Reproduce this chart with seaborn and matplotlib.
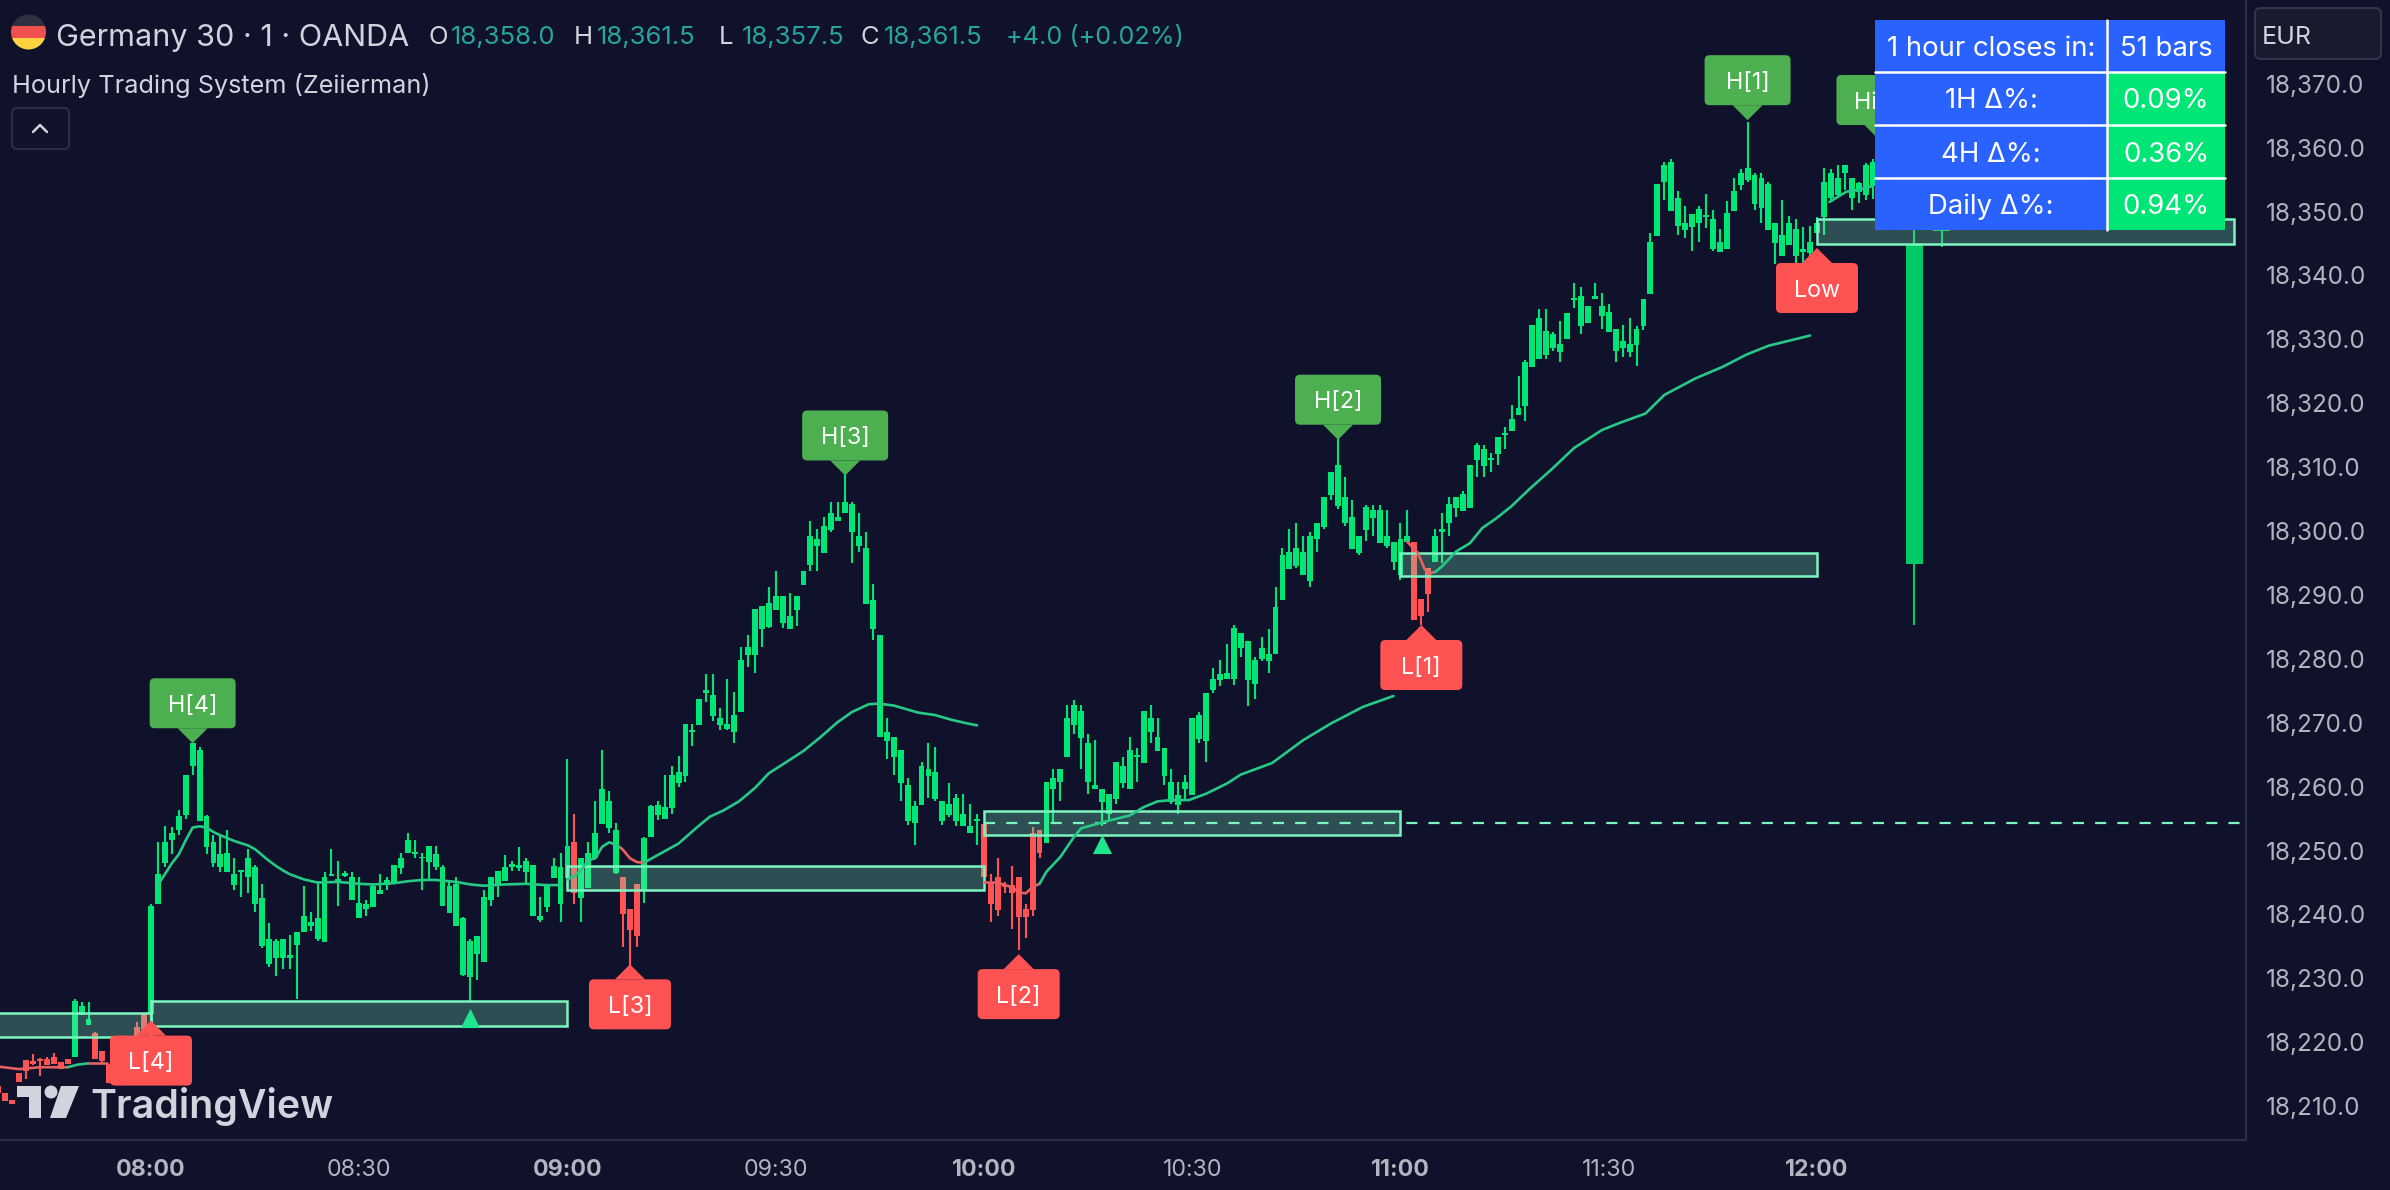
import matplotlib
matplotlib.use('Agg')
import matplotlib.pyplot as plt
import seaborn as sns
import pandas as pd
from matplotlib.patches import Rectangle, FancyBboxPatch, Polygon, Circle
from matplotlib.lines import Line2D
from matplotlib.transforms import IdentityTransform

# 价格都以 18000 为基准记录
PRICE_BASE = 18000
FIRST_BAR = -22  # 第 0 根 = 08:00，每根 1 分钟

HIGHS = [
    213.2, 212.1, 211.0, 215.2, 217.3, 218.2, 217.5, 217.7, 218.3, 216.9,
    217.4, 226.7, 226.3, 226.3, 221.6, 218.7, 216.6, 215.5, 217.0, 218.0, 223.2, 224.5,
    # 08:00
    241.7, 251.3, 253.8, 253.7, 256.3, 261.8, 266.9, 266.2, 255.6, 252.4,
    252.4, 253.3, 248.8, 246.9, 250.3, 247.7, 244.7, 238.7, 236.2, 236.2,
    236.8, 237.3, 244.4, 240.4, 245.3, 246.7, 250.3, 248.3, 246.8, 246.7,
    245.8, 242.3, 244.6, 246.3, 245.8, 247.7, 249.7, 252.7, 251.7, 249.6,
    250.7, 250.7, 247.7, 245.3, 245.8, 239.6, 236.2, 236.7, 243.8, 245.8,
    246.8, 249.3, 248.3, 250.6, 248.8, 247.7, 242.7, 244.6, 248.8, 249.7,
    # 09:00
    264.3, 255.7, 248.8, 251.3, 257.8, 265.7, 259.3, 254.3, 245.8, 240.8,
    244.7, 252.2, 257.2, 257.8, 261.8, 263.2, 264.8, 269.8, 269.8, 273.7,
    277.7, 277.7, 272.3, 276.8, 274.8, 281.8, 283.7, 287.8, 288.3, 291.2,
    293.8, 289.8, 290.3, 289.8, 293.8, 301.6, 300.3, 302.2, 304.6, 304.6,
    309.2, 304.6, 302.8, 299.8, 291.7, 283.7, 270.7, 267.7, 265.7, 261.3,
    257.7, 263.8, 266.8, 266.2, 257.7, 260.6, 258.9, 258.9, 257.3, 255.7,
    # 10:00
    254.2, 246.3, 248.8, 245.1, 247.6, 245.8, 241.7, 253.7, 253.2, 260.7,
    262.7, 262.7, 272.8, 273.6, 272.8, 268.2, 267.3, 259.7, 258.8, 263.8,
    264.7, 267.7, 266.1, 271.8, 272.8, 270.7, 266.1, 262.7, 260.7, 261.8,
    270.7, 271.7, 274.7, 278.6, 279.8, 282.3, 285.3, 284.1, 282.8, 280.3,
    283.5, 284.7, 291.2, 297.3, 300.3, 301.3, 299.3, 299.8, 301.3, 305.3,
    309.2, 314.4, 308.4, 304.8, 299.3, 304.1, 304.1, 304.1, 303.3, 298.3,
    # 11:00
    301.3, 303.3, 298.3, 289.3, 294.2, 300.3, 302.8, 305.3, 305.3, 306.2,
    310.4, 313.8, 313.4, 312.2, 314.8, 316.3, 319.7, 324.3, 326.8, 332.2,
    334.8, 334.8, 331.2, 332.8, 334.2, 338.8, 338.2, 335.2, 338.8, 337.2,
    335.6, 331.7, 332.2, 333.4, 332.1, 336.3, 346.7, 354.3, 357.8, 358.2,
    353.2, 350.8, 349.6, 350.8, 352.7, 350.2, 347.2, 351.6, 355.2, 356.7,
    364.0, 356.1, 356.1, 354.7, 348.2, 351.8, 349.3, 348.8, 347.6, 347.7,
    # 12:00
    349.2, 356.8, 356.7, 357.3, 357.3, 355.2, 354.7, 357.6, 358.2,
]
BODY_TOP = [
    213.2, 212.1, 211.0, 215.2, 217.3, 217.0, 217.4, 217.4, 217.7, 216.9,
    217.4, 226.5, 225.7, 223.7, 221.4, 218.7, 216.6, 215.5, 217.0, 218.0, 222.4, 224.5,
    # 08:00
    241.3, 246.3, 251.3, 252.7, 255.4, 261.8, 266.9, 265.7, 255.4, 251.3,
    249.4, 249.7, 246.3, 246.9, 248.8, 247.4, 242.6, 236.2, 235.8, 236.2,
    233.7, 237.3, 239.7, 238.8, 239.4, 245.8, 246.3, 245.5, 246.5, 245.8,
    241.8, 241.7, 244.5, 243.8, 245.4, 247.7, 248.8, 251.7, 249.8, 249.0,
    250.7, 249.4, 247.4, 244.4, 244.7, 239.4, 235.9, 236.7, 242.8, 245.8,
    246.8, 247.4, 247.9, 247.7, 248.4, 247.7, 239.7, 244.6, 247.6, 247.5,
    # 09:00
    250.7, 251.3, 248.8, 249.7, 252.7, 259.7, 257.8, 253.2, 245.8, 240.8,
    244.7, 251.9, 256.9, 257.2, 256.8, 261.8, 262.3, 269.8, 268.9, 273.7,
    275.1, 274.4, 270.7, 269.8, 271.2, 279.8, 281.8, 287.8, 288.3, 288.7,
    289.8, 289.8, 286.7, 289.8, 293.8, 299.2, 298.7, 300.8, 302.9, 302.2,
    304.6, 304.2, 299.2, 297.3, 289.2, 283.7, 268.6, 267.7, 265.7, 260.3,
    256.9, 263.2, 262.7, 262.3, 257.7, 257.3, 258.2, 255.7, 253.8, 255.0,
    # 10:00
    254.2, 244.7, 245.8, 244.6, 244.6, 245.8, 240.8, 252.7, 253.2, 260.7,
    261.3, 262.7, 270.7, 272.8, 271.8, 266.8, 260.2, 259.7, 258.8, 263.8,
    263.2, 265.7, 264.9, 271.8, 270.7, 267.7, 266.1, 260.7, 258.7, 260.7,
    270.7, 271.2, 274.7, 276.8, 277.7, 277.8, 284.9, 284.1, 282.8, 279.8,
    281.7, 280.7, 288.1, 296.3, 296.8, 297.3, 296.8, 299.3, 301.3, 305.3,
    309.2, 310.4, 305.3, 302.2, 299.3, 303.8, 303.3, 303.3, 299.3, 298.3,
    # 11:00
    298.8, 299.3, 298.3, 289.3, 294.2, 299.3, 300.3, 304.3, 305.3, 305.8,
    310.4, 313.4, 312.8, 311.4, 314.7, 315.4, 317.6, 319.2, 326.4, 332.2,
    333.4, 331.3, 330.8, 329.3, 334.2, 336.4, 336.8, 335.2, 336.8, 335.2,
    334.3, 331.7, 329.7, 329.3, 331.7, 336.3, 345.2, 354.3, 357.3, 357.8,
    352.2, 348.2, 349.6, 350.4, 349.4, 348.8, 345.2, 349.7, 353.2, 356.1,
    356.8, 355.7, 355.3, 354.3, 348.2, 346.3, 348.2, 347.2, 344.2, 345.2,
    # 12:00
    348.2, 354.7, 356.1, 355.3, 357.3, 355.2, 354.4, 357.3, 357.8,
]
BODY_BOT = [
    212.1, 210.8, 210.3, 213.8, 215.5, 216.6, 217.1, 216.5, 216.6, 215.8,
    216.6, 217.7, 224.2, 222.7, 217.4, 217.1, 213.7, 213.4, 214.0, 216.0, 219.0, 222.0,
    # 08:00
    224.5, 241.6, 248.1, 251.6, 253.2, 255.5, 263.3, 254.6, 250.6, 248.1,
    247.5, 246.6, 244.6, 246.6, 245.8, 241.6, 235.0, 232.2, 233.2, 233.2,
    233.2, 235.2, 237.2, 238.2, 236.1, 235.7, 246.1, 245.0, 246.1, 242.2,
    239.5, 240.8, 241.2, 243.2, 244.6, 245.0, 247.2, 249.6, 249.5, 248.8,
    248.2, 247.5, 241.4, 240.3, 238.2, 230.5, 230.2, 233.8, 232.6, 242.3,
    244.5, 245.3, 247.5, 247.2, 246.7, 239.7, 239.2, 241.2, 245.7, 241.7,
    # 09:00
    245.7, 243.3, 242.6, 244.1, 248.9, 254.2, 253.6, 246.5, 240.1, 237.6,
    236.6, 243.8, 252.2, 255.5, 255.0, 256.6, 260.5, 261.7, 268.6, 269.7,
    274.7, 271.1, 269.7, 269.1, 268.6, 271.7, 280.6, 280.6, 284.7, 285.0,
    287.7, 285.6, 284.7, 287.7, 291.6, 294.7, 297.7, 296.6, 300.2, 301.6,
    302.8, 299.8, 297.7, 288.6, 284.7, 267.7, 267.2, 264.7, 260.6, 254.7,
    254.3, 257.1, 261.7, 258.0, 254.7, 255.6, 254.7, 253.8, 252.7, 254.7,
    # 10:00
    245.8, 241.6, 240.7, 244.3, 243.3, 239.6, 239.6, 240.7, 249.6, 251.2,
    259.6, 260.7, 264.7, 269.6, 267.6, 260.7, 259.6, 257.6, 255.7, 258.0,
    260.6, 259.6, 264.7, 263.7, 268.6, 265.6, 261.6, 257.6, 257.1, 259.6,
    258.7, 267.5, 267.2, 275.1, 276.7, 276.9, 276.9, 281.7, 276.7, 276.1,
    280.0, 279.7, 280.7, 289.2, 294.1, 294.6, 293.2, 292.2, 298.7, 300.6,
    305.7, 304.0, 301.2, 297.2, 296.6, 300.2, 302.0, 298.2, 297.6, 295.2,
    # 11:00
    293.2, 298.3, 286.1, 286.7, 290.2, 295.2, 299.8, 301.2, 303.6, 303.2,
    303.6, 311.1, 310.2, 311.2, 312.1, 315.1, 315.7, 318.2, 319.6, 325.7,
    327.0, 327.6, 328.6, 328.1, 330.1, 336.1, 332.1, 332.5, 336.3, 333.6,
    331.2, 328.2, 328.6, 328.1, 329.1, 332.1, 337.1, 346.2, 354.7, 350.1,
    347.7, 347.1, 347.6, 348.2, 349.2, 344.1, 343.7, 344.1, 350.1, 354.2,
    355.0, 351.2, 350.5, 347.1, 345.1, 343.1, 344.7, 343.1, 343.7, 343.5,
    # 12:00
    346.7, 349.1, 352.2, 352.6, 356.1, 352.2, 353.1, 352.6, 354.0,
]
LOWS = [
    212.1, 210.8, 210.3, 213.8, 214.2, 216.4, 214.8, 216.5, 216.6, 215.8,
    216.6, 217.7, 224.2, 222.7, 217.4, 216.6, 213.7, 213.4, 214.0, 216.0, 219.0, 222.0,
    # 08:00
    224.0, 241.6, 247.5, 249.5, 252.4, 254.9, 261.8, 254.6, 249.4, 247.5,
    246.7, 246.6, 243.8, 242.8, 243.3, 240.4, 234.7, 231.8, 230.3, 231.4,
    231.4, 226.8, 237.2, 237.4, 235.9, 235.7, 246.1, 241.3, 245.8, 242.2,
    239.4, 239.7, 241.2, 243.2, 243.8, 245.0, 246.3, 249.6, 248.8, 243.8,
    245.5, 246.9, 241.3, 240.3, 238.2, 230.3, 226.3, 229.7, 232.6, 241.4,
    242.8, 245.3, 246.8, 246.8, 244.9, 239.7, 238.8, 240.4, 245.7, 238.9,
    # 09:00
    245.7, 241.7, 238.9, 244.1, 248.9, 254.2, 252.7, 246.3, 234.9, 231.3,
    234.9, 241.8, 252.2, 254.8, 254.9, 255.7, 259.9, 260.8, 266.3, 269.7,
    273.3, 270.3, 268.8, 268.8, 266.9, 271.7, 278.8, 277.8, 281.9, 284.8,
    287.7, 284.8, 284.7, 285.2, 291.6, 293.8, 293.8, 296.6, 299.9, 301.6,
    302.8, 295.0, 296.8, 288.6, 282.9, 267.7, 264.4, 261.8, 257.8, 254.0,
    250.8, 257.1, 258.3, 257.7, 254.0, 255.2, 253.8, 253.8, 252.7, 250.8,
    # 10:00
    245.8, 238.8, 239.7, 243.3, 237.8, 234.4, 236.3, 239.7, 248.9, 251.2,
    254.4, 257.8, 264.7, 268.2, 262.7, 258.8, 259.6, 253.9, 254.8, 257.3,
    259.8, 259.6, 260.8, 263.7, 266.9, 265.6, 260.2, 257.3, 255.8, 258.0,
    258.7, 266.9, 263.9, 274.7, 275.7, 276.9, 275.9, 280.3, 272.7, 273.8,
    279.7, 277.8, 280.7, 289.2, 294.1, 294.3, 293.2, 291.3, 296.8, 300.3,
    304.8, 303.5, 300.8, 297.2, 296.3, 298.4, 299.3, 298.2, 297.3, 293.9,
    # 11:00
    292.4, 298.3, 286.1, 285.3, 287.3, 295.2, 295.0, 299.3, 302.2, 303.2,
    303.6, 308.4, 308.4, 309.3, 310.3, 312.8, 315.7, 318.2, 317.3, 325.7,
    327.0, 326.9, 328.2, 326.4, 330.1, 334.9, 330.8, 332.5, 336.3, 331.7,
    331.2, 326.4, 327.3, 327.3, 325.8, 331.4, 337.1, 346.2, 351.8, 350.1,
    346.3, 345.8, 343.9, 345.3, 347.4, 343.9, 343.7, 344.1, 350.1, 353.3,
    354.7, 350.2, 348.2, 347.1, 341.8, 343.1, 344.7, 341.9, 341.9, 342.9,
    # 12:00
    346.7, 346.3, 351.5, 352.3, 353.4, 350.2, 351.4, 351.8, 352.0,
]
RED_BARS = [(-22, -12), (-8, -1), (61, 61), (68, 70), (120, 128), (182, 184)]

# 小时柱（大部分被表格挡住）
HOUR_BAR_IDX = [254, 258]
HOUR_HIGH = [361.5, 361.5]
HOUR_TOP = [345.0, 361.0]
HOUR_BOT = [294.9, 347.0]
HOUR_LOW = [285.3, 344.4]

# 小时均线，分段读取
MA0_RED_X = [-22, -19, -16, -12]
MA0_RED_Y = [216.2, 215.8, 216.1, 216.1]
MA0_GREEN_X = [-12, -10.6, -9]
MA0_GREEN_Y = [216.1, 216.5, 216.7]
MA0B_RED_X = [-9, -8, -6.4]
MA0B_RED_Y = [216.7, 216.7, 216.7]
MA1_X = [1, 2, 3, 4, 5, 6, 7, 8, 9, 10, 12, 14, 15, 16, 17, 18, 19, 20, 22, 24, 27, 30, 32, 35, 37, 39, 41, 44, 46, 48, 51, 54, 57, 59]
MA1_Y = [244.6, 246.3, 248.0, 249.4, 251.6, 253.6, 253.8, 253.6, 252.9, 252.4, 251.5, 250.8, 250.2, 249.3, 248.4, 247.6, 246.9, 246.3, 245.5, 245.0, 245.1, 244.8, 244.7, 244.9, 245.2, 245.4, 245.4, 245.1, 244.7, 244.5, 244.7, 244.8, 244.6, 244.6]
MA2_X = [60, 61, 62, 63, 64, 65, 66, 67, 67.7]
MA2_Y = [245.5, 246.0, 247.0, 248.5, 248.8, 250.6, 251.3, 250.9, 250.4]
MA2_RED_X = [67.7, 68, 69, 70, 71]
MA2_RED_Y = [250.4, 250.1, 248.8, 248.2, 248.1]
MA3_X = [71, 73.5, 76, 78.5, 80.5, 82.5, 84.7, 87, 89, 91.6, 94, 96.5, 98.8, 101, 103.4, 104.8, 107, 110.5, 113, 115.2, 117.6, 119]
MA3_Y = [248.1, 249.6, 251.1, 253.5, 255.3, 256.3, 257.7, 259.8, 262.1, 263.9, 265.6, 267.8, 270.0, 271.7, 272.9, 273.0, 272.7, 271.6, 271.2, 270.5, 269.9, 269.6]
MA4_RED_X = [120, 122, 123, 124, 125, 126, 127, 128]
MA4_RED_Y = [245.0, 245.0, 244.6, 244.3, 243.5, 243.3, 244.3, 244.8]
MA5_X = [128, 129, 131, 133, 134, 136, 138.4, 141, 143, 145, 147, 149.5, 152, 155, 157, 161.5, 166, 170, 174.6, 179]
MA5_Y = [244.8, 246.7, 249.0, 252.2, 253.5, 254.1, 254.8, 255.5, 256.8, 257.7, 257.9, 257.9, 258.9, 260.5, 261.9, 263.7, 267.3, 269.9, 272.5, 274.2]
MA6_RED_X = [181, 182.5, 183.5, 184, 185]
MA6_RED_Y = [298.3, 296.6, 294.0, 293.4, 293.6]
MA7_X = [185, 186, 188, 190, 191.8, 193.8, 196, 198.5, 201.9, 205, 209, 211.5, 215.3, 218, 222.5, 226.4, 229.8, 233, 239]
MA7_Y = [293.6, 294.5, 296.8, 298.1, 300.5, 302.0, 303.9, 306.5, 309.8, 313.0, 315.8, 316.9, 318.4, 321.3, 323.9, 325.7, 327.6, 329.0, 330.6]
MA8_X = [241.8, 244.2, 246, 248]
MA8_Y = [351.5, 353.1, 353.4, 354.0]

# 小时区间框
BOX_START = [-60, 0, 60, 120, 180, 240]
BOX_END = [0, 60, 120, 180, 240, 300]
BOX_TOP = [224.6, 226.4, 247.6, 256.2, 296.6, 348.8]
BOX_BOT = [220.9, 222.5, 243.9, 252.4, 293.0, 344.9]
DASH_START = 120
DASH_PRICE = 254.3

SIGNAL_X = [46, 137]
SIGNAL_Y = [223.8, 251.0]

LABEL_TEXT = ['H[4]', 'L[4]', 'H[3]', 'L[3]', 'L[2]', 'H[2]', 'L[1]', 'H[1]', 'High', 'Low']
LABEL_IDX = [6, 0, 100, 69, 125, 171, 183, 230, 249, 240]
LABEL_PRICE = [266.8, 223.4, 308.7, 232.2, 233.8, 314.3, 285.3, 364.3, 361.2, 344.3]

Y_TICKS = [18210 + 10 * k for k in range(17)]
X_TICKS = [0, 30, 60, 90, 120, 150, 180, 210, 240]
X_LABELS = ['08:00', '08:30', '09:00', '09:30', '10:00', '10:30', '11:00', '11:30', '12:00']

TABLE_ROWS = ['1 hour closes in:', '1H Δ%:', '4H Δ%:', 'Daily Δ%:']
TABLE_VALUES = ['51 bars', '0.09%', '0.36%', '0.94%']

W, H = 2390, 1190
BG = '#10122B'
GREEN = '#00E676'
RED = '#FF5252'
MINT = '#7CF5C0'
LINE_GREEN = '#26C985'
LINE_RED = '#E8605F'
AXIS = '#2A2D45'
AXIS_TEXT = '#B2B5BE'
FONT = 'Inter'

sns.set_theme(style='dark', rc={'axes.facecolor': BG, 'figure.facecolor': BG})
plt.rcParams['font.family'] = [FONT, 'DejaVu Sans']

fig = plt.figure(figsize=(W / 100, H / 100), dpi=100)
ax = fig.add_axes([0, 50 / H, 2246 / W, 1140 / H])
ax.set_xlim(-21.75, 301.8)
ax.set_ylim(PRICE_BASE + 204.71, PRICE_BASE + 383.11)

# K线
n_bars = len(HIGHS)
assert n_bars == len(BODY_TOP) == len(BODY_BOT) == len(LOWS)
bars = pd.DataFrame({
    'idx': range(FIRST_BAR, FIRST_BAR + n_bars),
    'high': PRICE_BASE + pd.Series(HIGHS),
    'top': PRICE_BASE + pd.Series(BODY_TOP),
    'bot': PRICE_BASE + pd.Series(BODY_BOT),
    'low': PRICE_BASE + pd.Series(LOWS),
})
bars['color'] = GREEN
for start, end in RED_BARS:
    bars.loc[bars['idx'].between(start, end), 'color'] = RED

ax.vlines(bars['idx'], bars['low'], bars['high'], colors=bars['color'], lw=1.5, zorder=2)
ax.bar(bars['idx'], bars['top'] - bars['bot'], bottom=bars['bot'], width=0.85,
       color=bars['color'], linewidth=0, zorder=2)

hour_high = [PRICE_BASE + v for v in HOUR_HIGH]
hour_low = [PRICE_BASE + v for v in HOUR_LOW]
hour_bot = [PRICE_BASE + v for v in HOUR_BOT]
hour_h = [t - b for t, b in zip(HOUR_TOP, HOUR_BOT)]
ax.vlines(HOUR_BAR_IDX, hour_low, hour_high, colors='#00C965', lw=1.5, zorder=2)
ax.bar(HOUR_BAR_IDX, hour_h, bottom=hour_bot, width=2.45, color='#00C965', linewidth=0, zorder=2)

# 区间框
for s, e, t, b in zip(BOX_START, BOX_END, BOX_TOP, BOX_BOT):
    ax.add_patch(Rectangle((s, PRICE_BASE + b), e - s, t - b, facecolor=(0.49, 0.96, 0.75, 0.27),
                           edgecolor=MINT, lw=1.8, zorder=3))
ax.plot([DASH_START, 301.8], [PRICE_BASE + DASH_PRICE] * 2, color=MINT, lw=1.6,
        dashes=(5, 5), zorder=4)

# 均线
ma_parts = [
    (MA0_RED_X, MA0_RED_Y, LINE_RED), (MA0_GREEN_X, MA0_GREEN_Y, LINE_GREEN),
    (MA0B_RED_X, MA0B_RED_Y, LINE_RED), (MA1_X, MA1_Y, LINE_GREEN),
    (MA2_X, MA2_Y, LINE_GREEN), (MA2_RED_X, MA2_RED_Y, LINE_RED),
    (MA3_X, MA3_Y, LINE_GREEN), (MA4_RED_X, MA4_RED_Y, LINE_RED),
    (MA5_X, MA5_Y, LINE_GREEN), (MA6_RED_X, MA6_RED_Y, LINE_RED),
    (MA7_X, MA7_Y, LINE_GREEN), (MA8_X, MA8_Y, LINE_GREEN),
]
for xs, ys, c in ma_parts:
    sns.lineplot(x=xs, y=[PRICE_BASE + v for v in ys], color=c, lw=1.9, ax=ax,
                 legend=False, estimator=None, sort=False, zorder=4)

sns.scatterplot(x=SIGNAL_X, y=[PRICE_BASE + v for v in SIGNAL_Y], marker='^', s=190, color='#1FE68C',
                linewidth=0, ax=ax, legend=False, zorder=5)

# 坐标轴
ax.yaxis.tick_right()
ax.set_yticks(Y_TICKS)
ax.set_yticklabels([f'{v:,.1f}' for v in Y_TICKS], fontsize=17.5, color=AXIS_TEXT)
ax.set_xticks(X_TICKS)
ax.set_xticklabels(X_LABELS, fontsize=16.7, color=AXIS_TEXT)
for k, lab in enumerate(ax.get_xticklabels()):
    if k % 2 == 0:
        lab.set_fontweight('bold')
ax.tick_params(axis='y', length=0, pad=14)
ax.tick_params(axis='x', length=0, pad=14)
ax.set_xlabel('')
ax.set_ylabel('')
for side in ['top', 'left']:
    ax.spines[side].set_visible(False)
for side in ['bottom', 'right']:
    ax.spines[side].set_color(AXIS)
    ax.spines[side].set_linewidth(1.5)
ax.grid(False)


# 下面都是界面元素，用像素坐标画
def fy(y):
    return H - y


def add(artist, z=10):
    artist.set_transform(IdentityTransform())
    artist.set_zorder(z)
    fig.add_artist(artist)
    return artist


def txt(x, y, s, color='white', size=16, ha='left', weight='normal', z=12):
    fig.text(x / W, 1 - y / H, s, color=color, fontsize=size, ha=ha, va='center_baseline',
             fontweight=weight, zorder=z)


# 信号标签
fig.canvas.draw()
for s, i, p in zip(LABEL_TEXT, LABEL_IDX, LABEL_PRICE):
    tx, ty = ax.transData.transform((i, PRICE_BASE + p))
    is_high = s.startswith('H')
    c = '#4CAF50' if is_high else RED
    w = 86 if is_high else 82
    if is_high:
        tail = [(tx, ty), (tx - 15, ty + 15), (tx + 15, ty + 15)]
        y0 = ty + 15
    else:
        tail = [(tx, ty), (tx - 15, ty - 15), (tx + 15, ty - 15)]
        y0 = ty - 65
    add(Polygon(tail, closed=True, facecolor=c, edgecolor='none'), 6)
    add(FancyBboxPatch((tx - w / 2 + 5, y0 + 5), w - 10, 40, boxstyle='round,pad=5,rounding_size=5',
                       facecolor=c, edgecolor='none'), 6)
    fig.text(tx / W, (y0 + 25) / H, s, color='white', fontsize=16.8, ha='center', va='center_baseline', zorder=7)

# 表格
col_x = [1875, 2107, 2225]
row_y = [20, 72, 125, 178, 230]
add(Rectangle((col_x[0], fy(row_y[-1])), col_x[2] - col_x[0], row_y[-1] - row_y[0], facecolor='#2962FF', edgecolor='none'), 8)
add(Rectangle((col_x[1], fy(row_y[-1])), col_x[2] - col_x[1], row_y[-1] - row_y[1], facecolor='#00E676', edgecolor='none'), 8)
for y in row_y[1:-1]:
    add(Line2D([col_x[0], col_x[2]], [fy(y), fy(y)], color='white', lw=1.8), 9)
add(Line2D([col_x[1], col_x[1]], [fy(row_y[0]), fy(row_y[-1])], color='white', lw=1.8), 9)
for r, (a, b) in enumerate(zip(TABLE_ROWS, TABLE_VALUES)):
    yc = (row_y[r] + row_y[r + 1]) / 2
    txt((col_x[0] + col_x[1]) / 2, yc, a, ha='center', size=19.8)
    txt((col_x[1] + col_x[2]) / 2, yc, b, ha='center', size=19.8)

# 顶部信息
flag = Circle((28.5, fy(32)), 17.5)
flag.set_transform(IdentityTransform())
for y0, c in zip([14, 26, 38], ['#2E3140', '#F0514F', '#FFD23F']):
    r = add(Rectangle((11, fy(y0 + 12)), 35, 12, facecolor=c, edgecolor='none'), 11)
    r.set_clip_path(flag)

txt(56, 35, 'Germany 30 · 1 · OANDA', color='#D1D4DC', size=22)
ohlc_x = [428, 574, 719, 861]
ohlc_names = ['O', 'H', 'L', 'C']
ohlc_vals = ['18,358.0', '18,361.5', '18,357.5', '18,361.5']
for x, n, v in zip(ohlc_x, ohlc_names, ohlc_vals):
    txt(x, 35, n, color='#D1D4DC', size=18.5)
    txt(x + 23, 35, v, color='#26A69A', size=18.5)
txt(1006, 35, '+4.0 (+0.02%)', color='#26A69A', size=18.2)
txt(12, 83, 'Hourly Trading System (Zeiierman)', color='#D1D4DC', size=18.2)

add(FancyBboxPatch((15, fy(146)), 51, 35, boxstyle='round,pad=3,rounding_size=5',
                   facecolor=BG, edgecolor=AXIS, lw=1.5), 11)
add(Line2D([33, 40, 47], [fy(132), fy(125), fy(132)], color='#D1D4DC', lw=1.8), 12)

add(FancyBboxPatch((2258, fy(56)), 120, 45, boxstyle='round,pad=3,rounding_size=6',
                   facecolor='#181B2E', edgecolor='#33364A', lw=1.5), 11)
txt(2262, 35, 'EUR', color='#D1D4DC', size=18)

# TradingView 水印
mark = '#D1D4DC'
add(Polygon([(17, fy(1086)), (41, fy(1086)), (41, fy(1118)), (29, fy(1118)), (29, fy(1097)), (17, fy(1097))],
            closed=True, facecolor=mark, edgecolor='none'), 8)
add(Circle((51, fy(1092)), 6.5, facecolor=mark, edgecolor='none'), 8)
add(Polygon([(61, fy(1086)), (79, fy(1086)), (66, fy(1118)), (50, fy(1118))],
            closed=True, facecolor=mark, edgecolor='none'), 8)
txt(90, 1102, 'TradingView', color=mark, size=28.3, weight='semibold', z=8)

fig.savefig('out.png', dpi=100, facecolor=BG)
plt.close(fig)
